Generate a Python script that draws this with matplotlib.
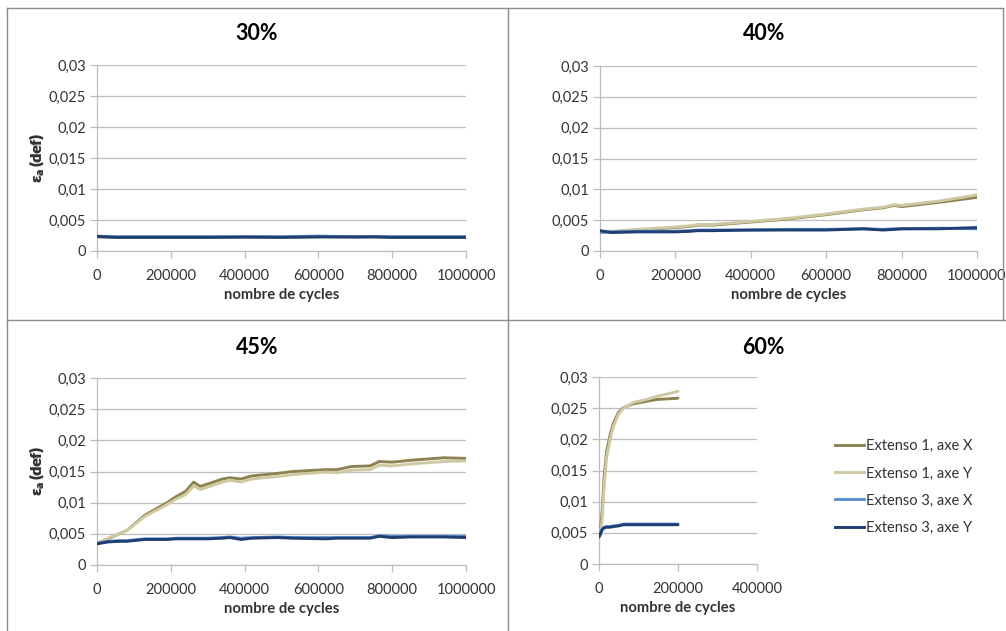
import matplotlib
matplotlib.use("Agg")
import matplotlib.pyplot as plt
from matplotlib.lines import Line2D

plt.rcParams['font.family'] = ['Lato', 'DejaVu Sans']

# ---------------- data ----------------
series_labels = ["Extenso 1, axe X", "Extenso 1, axe Y", "Extenso 3, axe X", "Extenso 3, axe Y"]
series_colors = ["#8F8252", "#CFC9A3", "#5B8FD0", "#1F3F73"]

titles = ["30%", "40%", "45%", "60%"]
xlabel = "nombre de cycles"
ylabel = "ε$_\\mathregular{a}$ (def)"
yticks = [0, 0.005, 0.01, 0.015, 0.02, 0.025, 0.03]
ytick_labels = ["0", "0,005", "0,01", "0,015", "0,02", "0,025", "0,03"]
xticks_long = [0, 200000, 400000, 600000, 800000, 1000000]
xtick_labels_long = ["0", "200000", "400000", "600000", "800000", "1000000"]
xticks_short = [0, 200000, 400000]
xtick_labels_short = ["0", "200000", "400000"]

c30 = [0, 50000, 100000, 200000, 300000, 400000, 500000, 600000, 700000, 750000, 800000, 900000, 1000000]
e1x_30 = [0.0023, 0.0022, 0.0022, 0.0022, 0.0022, 0.0022, 0.0022, 0.0023, 0.0023, 0.0022, 0.0022, 0.0022, 0.0022]
e1y_30 = [0.0023, 0.0022, 0.0022, 0.0022, 0.0022, 0.0022, 0.0022, 0.0023, 0.0023, 0.0022, 0.0022, 0.0022, 0.0022]
e3x_30 = [0.0024, 0.0023, 0.0023, 0.0023, 0.0023, 0.0023, 0.0023, 0.0024, 0.0023, 0.0023, 0.0023, 0.0023, 0.0023]
e3y_30 = [0.00235, 0.0022, 0.0022, 0.0022, 0.0022, 0.00225, 0.0022, 0.00228, 0.00225, 0.0023, 0.0022, 0.0022, 0.0022]

c40 = [0, 30000, 100000, 200000, 240000, 260000, 300000, 400000, 500000, 600000, 700000, 750000, 780000, 800000, 900000, 1000000]
e1x_40 = [0.0031, 0.0031, 0.0034, 0.0038, 0.0040, 0.0042, 0.0042, 0.0047, 0.0052, 0.0059, 0.0067, 0.0070, 0.0074, 0.0072, 0.0079, 0.0087]
e1y_40 = [0.0031, 0.0032, 0.0035, 0.0039, 0.0041, 0.0043, 0.0043, 0.0048, 0.0053, 0.0060, 0.0068, 0.0071, 0.0075, 0.0074, 0.0081, 0.0091]
e3x_40 = [0.0030, 0.0031, 0.0032, 0.0032, 0.0033, 0.0034, 0.0034, 0.0034, 0.0035, 0.0035, 0.0036, 0.0035, 0.0036, 0.0036, 0.0037, 0.0036]
e3y_40 = [0.0033, 0.0030, 0.0031, 0.0031, 0.0032, 0.0033, 0.0033, 0.0034, 0.0034, 0.0034, 0.0036, 0.0034, 0.0035, 0.0036, 0.0036, 0.0038]

c45 = [0, 30000, 60000, 80000, 130000, 190000, 215000, 240000, 262000, 280000, 300000, 340000, 360000,
       390000, 420000, 490000, 530000, 620000, 650000, 690000, 740000, 765000, 800000, 850000, 940000, 1000000]
e1x_45 = [0.0034, 0.0042, 0.0050, 0.0055, 0.0080, 0.0100, 0.0110, 0.0118, 0.0133, 0.0126, 0.0130, 0.0138, 0.0140,
          0.0138, 0.0143, 0.0147, 0.0150, 0.0153, 0.0153, 0.0158, 0.0159, 0.0166, 0.0165, 0.0168, 0.0172, 0.0171]
e1y_45 = [0.0035, 0.0043, 0.0050, 0.0055, 0.0078, 0.0097, 0.0106, 0.0113, 0.0127, 0.0121, 0.0125, 0.0133, 0.0136,
          0.0133, 0.0138, 0.0142, 0.0145, 0.0149, 0.0148, 0.0152, 0.0153, 0.0160, 0.0159, 0.0162, 0.0166, 0.0167]
e3x_45 = [0.0035, 0.0038, 0.0039, 0.0039, 0.0042, 0.0042, 0.0043, 0.0043, 0.0043, 0.0043, 0.0043, 0.0044, 0.0045,
          0.0043, 0.0044, 0.0045, 0.0044, 0.0044, 0.0044, 0.0044, 0.0044, 0.0047, 0.0046, 0.0046, 0.0046, 0.0046]
e3y_45 = [0.0034, 0.0037, 0.0038, 0.0038, 0.0041, 0.0041, 0.0042, 0.0042, 0.0042, 0.0042, 0.0042, 0.0043, 0.0044,
          0.0041, 0.0043, 0.0044, 0.0043, 0.0042, 0.0043, 0.0043, 0.0043, 0.0046, 0.0044, 0.0045, 0.0045, 0.0044]

c60 = [0, 3000, 8000, 13000, 19000, 28000, 36000, 49000, 62000, 87000, 120000, 146000, 175000, 200000]
e1x_60 = [0.0045, 0.0050, 0.0085, 0.0140, 0.0180, 0.0207, 0.0225, 0.0243, 0.0251, 0.0257, 0.0261, 0.0264, 0.0265, 0.0266]
e1y_60 = [0.0045, 0.0048, 0.0070, 0.0125, 0.0170, 0.0200, 0.0220, 0.0240, 0.0250, 0.0259, 0.0264, 0.0269, 0.0273, 0.0277]
e3x_60 = [0.0045, 0.0050, 0.0056, 0.0059, 0.0060, 0.0060, 0.0061, 0.0062, 0.0064, 0.0064, 0.0064, 0.0064, 0.0064, 0.0064]
e3y_60 = [0.0043, 0.0047, 0.0055, 0.0058, 0.0059, 0.0059, 0.0060, 0.0061, 0.0063, 0.0063, 0.0063, 0.0063, 0.0063, 0.0063]

panels = [
    (c30, [e1x_30, e1y_30, e3x_30, e3y_30], 1000000, xticks_long, xtick_labels_long),
    (c40, [e1x_40, e1y_40, e3x_40, e3y_40], 1000000, xticks_long, xtick_labels_long),
    (c45, [e1x_45, e1y_45, e3x_45, e3y_45], 1000000, xticks_long, xtick_labels_long),
    (c60, [e1x_60, e1y_60, e3x_60, e3y_60], 400000, xticks_short, xtick_labels_short),
]

# ---------------- layout (pixels) ----------------
W, H = 1006, 631
fig = plt.figure(figsize=(W / 100, H / 100), dpi=100)
fig.patch.set_facecolor("white")

boxes = [(97, 466, 65, 251), (600, 977, 66, 251), (97, 466, 378, 565), (599, 757, 377, 564)]
title_pos = [(257, 34), (764, 34), (257, 347), (763, 347)]

grid_c = "#BDBDBD"
txt_c = "#333333"

for i, (cyc, vals, xmax, xt, xtl) in enumerate(panels):
    l, r, t, b = boxes[i]
    ax = fig.add_axes([l / W, (H - b) / H, (r - l) / W, (b - t) / H])
    for s in range(4):
        ax.plot(cyc, vals[s], color=series_colors[s], lw=2.1, solid_capstyle="round", zorder=3 + s)
    ax.set_xlim(0, xmax)
    ax.set_ylim(0, 0.03)
    ax.set_yticks(yticks)
    ax.set_yticklabels(ytick_labels)
    ax.set_xticks(xt)
    ax.set_xticklabels(xtl)
    ax.grid(axis="y", color=grid_c, lw=0.9)
    ax.set_axisbelow(True)
    for sp in ["top", "right"]:
        ax.spines[sp].set_visible(False)
    ax.spines["left"].set_color(grid_c)
    ax.spines["bottom"].set_color(grid_c)
    ax.spines["left"].set_linewidth(0.9)
    ax.spines["bottom"].set_linewidth(0.9)
    ax.tick_params(axis="both", colors=grid_c, labelcolor=txt_c, labelsize=10.5, length=5, width=0.9)
    ax.tick_params(axis="x", pad=8)
    ax.tick_params(axis="y", pad=3)
    ax.set_xlabel(xlabel, fontsize=10.7, fontweight="bold", color=txt_c, va="center")
    ax.xaxis.set_label_coords(0.5, -44 / (b - t))
    ax.set_ylabel(ylabel, fontsize=11, fontweight="bold", color=txt_c, va="center")
    ax.yaxis.set_label_coords((37 - l) / (r - l), 0.5)
    tx, ty = title_pos[i]
    fig.text(tx / W, (H - ty) / H, titles[i], fontsize=15.5, fontweight="bold",
             ha="center", va="center", color="black")
    if i == 3:
        handles = [Line2D([], [], color=series_colors[s], lw=2.1) for s in range(4)]
        fig.legend(handles, series_labels, loc="center left",
                   bbox_to_anchor=(822 / W, (H - 487) / H), frameon=False,
                   fontsize=10.5, handlelength=2.0, handletextpad=0.1,
                   labelspacing=0.9, labelcolor=txt_c)

# panel borders
border_c = "#8C8C8C"
def hline(y, x0, x1):
    fig.add_artist(Line2D([x0 / W, x1 / W], [(H - y) / H, (H - y) / H], color=border_c, lw=1.0))
def vline(x, y0, y1):
    fig.add_artist(Line2D([x / W, x / W], [(H - y0) / H, (H - y1) / H], color=border_c, lw=1.0))

hline(8, 7, 1003)
hline(320, 7, 1006)
vline(7, 8, 631)
vline(508, 8, 631)
vline(1003, 8, 320)

fig.savefig("out.png", dpi=100, facecolor="white")
